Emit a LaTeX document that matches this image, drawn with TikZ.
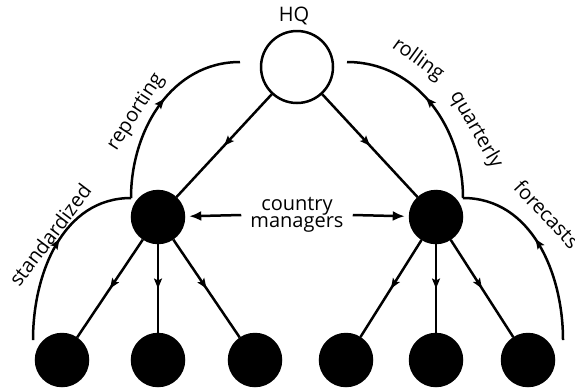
\documentclass[tikz,border=0pt]{standalone}
\usepackage{fontspec}
\setmainfont{Open Sans}
\usetikzlibrary{arrows.meta,decorations.markings}

\begin{document}
\begin{tikzpicture}[x=1pt,y=-1pt,line width=2.5pt,
  unit/.style={circle,draw,fill=black,minimum size=52pt,inner sep=0pt},
  midarrow/.style={postaction={decorate},decoration={markings,
    mark=at position #1 with {\arrow{Stealth[length=10pt,width=8pt,inset=2pt]}}}},
  midarrow/.default=0.5,
  lbl/.style={font=\fontsize{20}{15}\selectfont,inner sep=0pt}]
\useasboundingbox (0,0) rectangle (575,389);
% the nodes
\node[unit,fill=white,minimum size=72pt] (hq) at (297,67) {};
\node[unit] (cl) at (158,217) {};
\node[unit] (cr) at (436,217) {};
\foreach \n/\x in {1/62,2/158,3/255,4/346,5/436,6/528} % edit here for the bottom row
\node[unit] (b\n) at (\x,360) {};
% tree lines
\draw[midarrow] (hq) -- (cl);
\draw[midarrow] (hq) -- (cr);
\foreach \n in {1,2,3}
\draw[midarrow] (cl) -- (b\n);
\foreach \n in {4,5,6}
\draw[midarrow] (cr) -- (b\n);
% the reporting loops
\coordinate (jl) at (131,198);
\coordinate (jr) at (463,198);
\coordinate (tl) at (240,62);
\coordinate (tr) at (347,62);
\coordinate (sl) at (33,340);
\coordinate (sr) at (563,340);
\draw[midarrow=0.55] (sl) to[out=90,in=180] (jl);
\draw[midarrow=0.55] (jl) to[out=90,in=180] (tl);
\draw[midarrow=0.55] (sr) to[out=90,in=0] (jr);
\draw[midarrow=0.55] (jr) to[out=90,in=0] (tr);
% labels
\node[lbl] (hqtext) at (294,16) {HQ};
\node[lbl,align=center] (cm) at (297,215) {country\\managers};
\draw[-{Latex[length=12pt,width=10pt]},shorten >=4pt] (cm.west) ++(-8,0) coordinate (cmw) (cmw) -- (cl);
\draw[-{Latex[length=12pt,width=10pt]},shorten >=4pt] (cm.east) ++(8,0) coordinate (cme) (cme) -- (cr);
\node[lbl,rotate=57] (rep) at (136,112) {reporting};
\node[lbl,rotate=53] (std) at (50,235) {standardized};
\node[lbl,rotate=-36] (rol) at (418,60) {rolling};
\node[lbl,rotate=-60] (qua) at (476,130) {quarterly};
\node[lbl,rotate=-47] (for) at (547,214) {forecasts};
\end{tikzpicture}
\end{document}
